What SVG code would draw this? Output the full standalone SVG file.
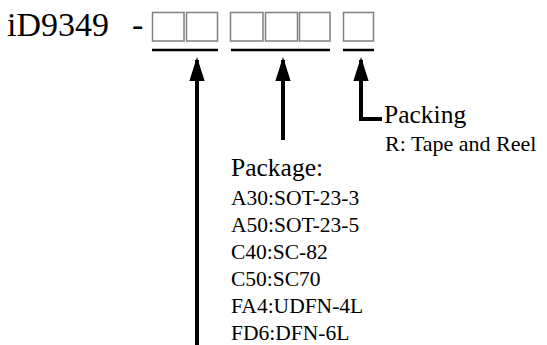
<svg xmlns="http://www.w3.org/2000/svg" width="547" height="345" viewBox="0 0 547 345">
<style>
text { font-family: "Liberation Serif", "Times New Roman", serif; fill: #000; }
.title { font-size: 34px; }
.head { font-size: 25.5px; }
.small { font-size: 21.5px; }
.rt { font-size: 22px; }
.box { fill: #fff; stroke: #808080; stroke-width: 1.5; }
.ul { stroke: #000; stroke-width: 2.5; }
.conn { stroke: #000; stroke-width: 4; fill: none; }
</style>
<defs>
<marker id="ah" viewBox="0 0 10 6.4" refX="8.8" refY="3.2" markerWidth="6" markerHeight="3.84" markerUnits="strokeWidth" orient="auto">
<path d="M0,0 L10,3.2 L0,6.4 z" fill="#000"/>
</marker>
</defs>
<g id="title">
<text class="title" x="7" y="36">iD9349</text>
<text class="title" x="132" y="36">-</text>
</g>
<g id="field1">
<rect class="box" x="152.5" y="12.5" width="31.5" height="28.5"/>
<rect class="box" x="186.5" y="12.5" width="31" height="28.5"/>
<line class="ul" x1="152" y1="50" x2="218" y2="50"/>
</g>
<g id="field2">
<rect class="box" x="230.5" y="12.5" width="32.5" height="28.5"/>
<rect class="box" x="265.5" y="12.5" width="32" height="28.5"/>
<rect class="box" x="299.5" y="12.5" width="30.5" height="28.5"/>
<line class="ul" x1="231" y1="50" x2="330" y2="50"/>
</g>
<g id="field3">
<rect class="box" x="343.5" y="12.5" width="30" height="28.5"/>
<line class="ul" x1="343" y1="50" x2="374" y2="50"/>
</g>
<g id="packing">
<text class="head" x="384" y="123">Packing</text>
<text class="rt" x="385" y="151">R: Tape and Reel</text>
</g>
<g id="package">
<text class="head" x="231" y="176">Package:</text>
<text class="small" x="231" y="205">A30:SOT-23-3</text>
<text class="small" x="231" y="232">A50:SOT-23-5</text>
<text class="small" x="231" y="259">C40:SC-82</text>
<text class="small" x="231" y="286">C50:SC70</text>
<text class="small" x="231" y="313">FA4:UDFN-4L</text>
<text class="small" x="231" y="340">FD6:DFN-6L</text>
</g>
<g id="connectors">
<path class="conn" d="M197,345 V60" marker-end="url(#ah)"/>
<path class="conn" d="M283,140 V60" marker-end="url(#ah)"/>
<path class="conn" d="M382,119 H361 V60" marker-end="url(#ah)"/>
</g>
</svg>
